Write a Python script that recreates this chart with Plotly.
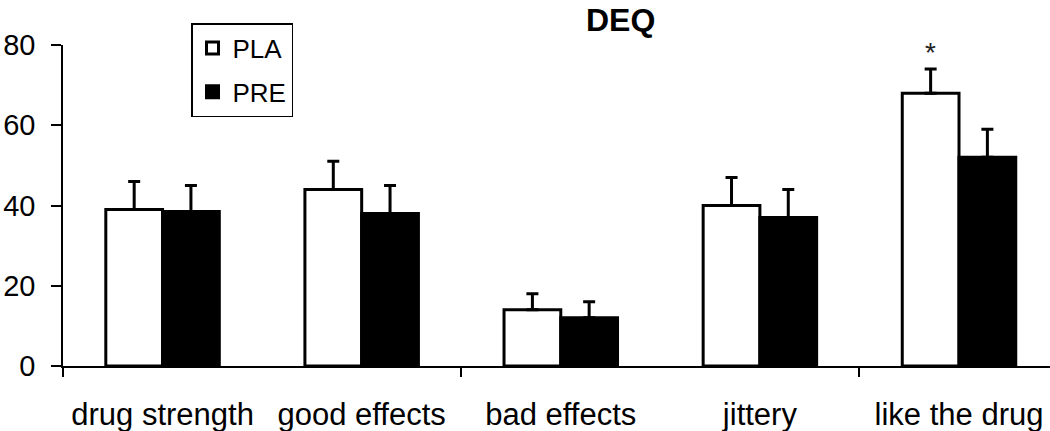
import plotly.graph_objects as go

categories = ["drug strength", "good effects", "bad effects", "jittery", "like the drug"]
pla_values = [39, 44, 14, 40, 68]
pla_errors = [7, 7, 4, 7, 6]
pre_values = [38.5, 38, 12, 37, 52]
pre_errors = [6.5, 7, 4, 7, 7]
y_ticks = [0, 20, 40, 60, 80]
x_tick_marks = [-0.5, 1.5, 3.5]
star_label = "*"

FONT = "Liberation Sans, Arial, sans-serif"

fig = go.Figure()
fig.add_trace(go.Bar(
    x=categories, y=pla_values, name="PLA", legendgroup="a",
    marker=dict(color="white", line=dict(color="black", width=3)),
    error_y=dict(type="data", array=pla_errors, arrayminus=[0] * len(pla_errors),
                 symmetric=False, color="black", thickness=3, width=6),
))
fig.add_trace(go.Bar(
    x=categories, y=pre_values, name="PRE", legendgroup="b",
    marker=dict(color="black", line=dict(color="black", width=3)),
    error_y=dict(type="data", array=pre_errors, arrayminus=[0] * len(pre_errors),
                 symmetric=False, color="black", thickness=3, width=6),
))
# invisible trace for the tick-mark axis
fig.add_trace(go.Scatter(x=x_tick_marks, y=[0] * len(x_tick_marks), xaxis="x2",
                         mode="markers", marker=dict(opacity=0), showlegend=False,
                         hoverinfo="skip"))

fig.add_annotation(x=categories[4], y=pla_values[4] + pla_errors[4], text=star_label,
                   showarrow=False, xshift=-29, yshift=17, yanchor="middle",
                   font=dict(family=FONT, size=28, color="#222"))

fig.update_layout(
    width=1050, height=431,
    margin=dict(l=63, r=0, t=45, b=65, autoexpand=False),
    paper_bgcolor="white", plot_bgcolor="white",
    barmode="group", bargap=0.43, bargroupgap=0,
    font=dict(family=FONT, color="black"),
    title=dict(text="<b>DEQ</b>", x=0.565, xref="paper", xanchor="center",
               y=0.955, yref="container", yanchor="middle",
               font=dict(family=FONT, size=32, color="black")),
    showlegend=True,
    legend=dict(x=(191 - 63) / 987, y=1 + (45 - 23) / 321, xanchor="left", yanchor="top",
                bgcolor="white", bordercolor="black", borderwidth=1.5,
                font=dict(family=FONT, size=26, color="black"),
                tracegroupgap=7, traceorder="grouped", itemwidth=30),
    xaxis=dict(type="category", range=[-0.5, 4.457], showline=True, linecolor="black",
               linewidth=2, ticks="", showgrid=False, zeroline=False, automargin=False,
               tickfont=dict(family=FONT, size=31, color="black"),
               ticklabelstandoff=20),
    xaxis2=dict(overlaying="x", anchor="y", range=[-0.5, 4.457], type="linear",
                tickvals=x_tick_marks, ticks="outside", ticklen=10, tickwidth=1.5,
                tickcolor="black", showticklabels=False, showgrid=False, automargin=False,
                zeroline=False, showline=False),
    yaxis=dict(range=[0, 80], tickvals=y_ticks, showline=True, linecolor="black",
               linewidth=1.5, ticks="outside", ticklen=10, tickwidth=1.5,
               tickcolor="black", showgrid=False, zeroline=False, automargin=False,
               tickfont=dict(family=FONT, size=29, color="black"),
               ticklabelstandoff=10),
)

fig.write_html("out.html", config={"displayModeBar": False},
               post_script="document.body.style.margin='0px';document.body.style.overflow='hidden';")
